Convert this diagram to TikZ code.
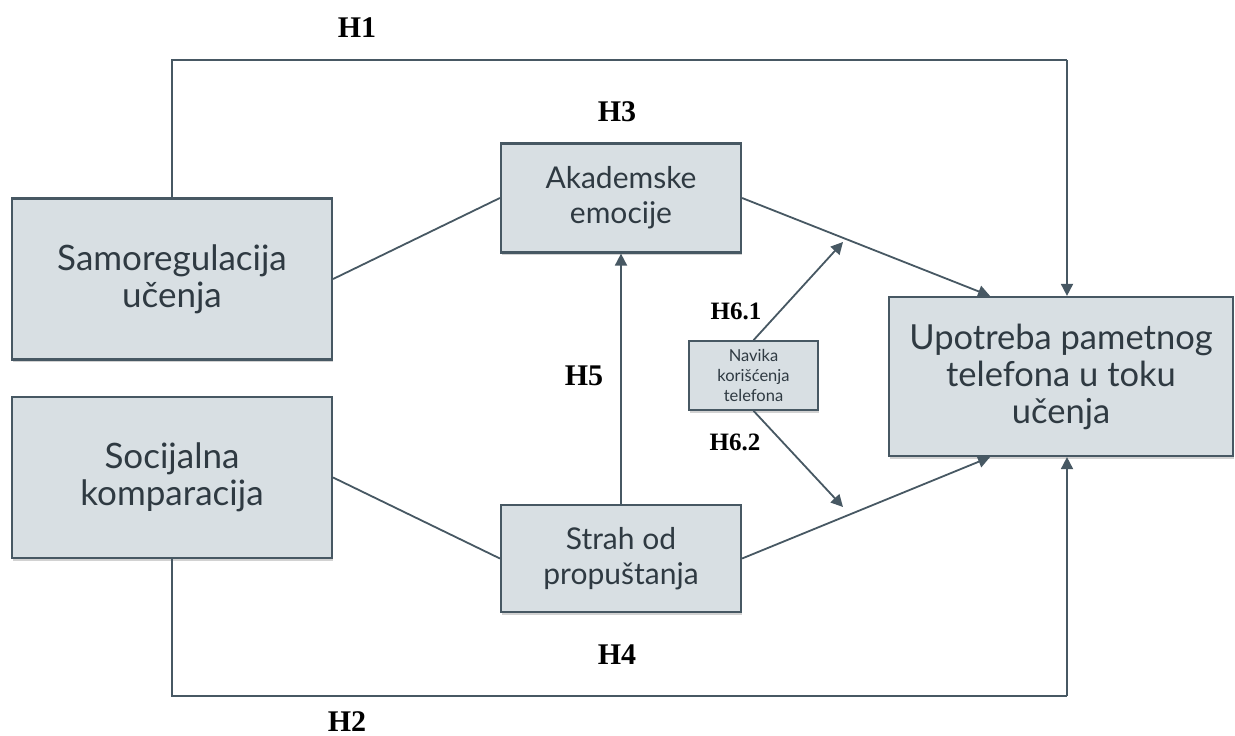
\documentclass[tikz,border=0pt]{standalone}
\usepackage{fontspec}
\setmainfont{Lato}
\newfontfamily\hfont{Liberation Serif}
\usetikzlibrary{arrows.meta,shadows,calc}
\definecolor{boxfill}{HTML}{D8DFE3}
\definecolor{edgecol}{HTML}{475863}
\definecolor{txtcol}{HTML}{2F3A42}
\begin{document}
\begin{tikzpicture}[x=1pt,y=-1pt,
  box/.style={draw=edgecol,line width=2.2pt,fill=boxfill,text=txtcol,
    align=center,inner sep=0pt,
    drop shadow={opacity=0.35,shadow xshift=1pt,shadow yshift=-2.5pt}},
  link/.style={draw=edgecol,line width=1.8pt},
  arr/.style={link,-{Triangle[length=12pt,width=12pt]}},
  hlab/.style={font=\hfont\bfseries\fontsize{30}{32}\selectfont,text=black,inner sep=0pt},
  hsub/.style={font=\hfont\bfseries\fontsize{25}{27}\selectfont,text=black,inner sep=0pt}]
\useasboundingbox[fill=white] (0,0) rectangle (1235,736);

% boxes
\node[box,minimum width=320pt,minimum height=161pt,
  font=\fontsize{35}{37}\selectfont] (sam) at (172,279) {Samoregulacija\\u\v{c}enja};
\node[box,minimum width=320pt,minimum height=161pt,
  font=\fontsize{35}{37}\selectfont] (soc) at (172,477.5) {Socijalna\\komparacija};
\node[box,minimum width=240pt,minimum height=109pt,
  font=\fontsize{30}{35}\selectfont] (aka) at (621,198) {Akademske\\emocije};
\node[box,minimum width=240pt,minimum height=107pt,
  font=\fontsize{30}{35}\selectfont] (str) at (621,558.5) {Strah od\\propu\v{s}tanja};
\node[box,minimum width=344pt,minimum height=159pt,
  font=\fontsize{34.5}{37}\selectfont] (upo) at (1061,376.5) {Upotreba pametnog\\telefona u toku\\u\v{c}enja};
\node[box,minimum width=129pt,minimum height=69pt,line width=1.6pt,
  font=\fontsize{16.5}{20}\selectfont] (nav) at (753.5,375.5) {Navika\\kori\v{s}\'{c}enja\\telefona};

% free ends of the moderation arrows
\coordinate (m1) at (843,242);
\coordinate (m2) at (843,507);
\coordinate (h1a) at (172,60);
\coordinate (h1b) at (1067,60);
\coordinate (h2a) at (172,696);
\coordinate (h2b) at (1067,696);
\coordinate (upTop) at ($(upo.north)+(-71,0)$);
\coordinate (upBot) at ($(upo.south)+(-71,0)$);
\coordinate (upTopR) at ($(upo.north)+(6,0)$);
\coordinate (upBotR) at ($(upo.south)+(6,0)$);

% connectors
\draw[link] (sam.north) -- (h1a) -- (h1b);
\draw[arr] (h1b) -- (upTopR);
\draw[link] (soc.south) -- (h2a) -- (h2b);
\draw[arr] (h2b) -- (upBotR);
\draw[link] (sam.east) -- (aka.west);
\draw[link] (soc.east) -- (str.west);
\draw[arr] (aka.east) -- (upTop);
\draw[arr] (str.east) -- (upBot);
\draw[arr] (str.north) -- (aka.south);
\draw[arr] (nav.north) -- (m1);
\draw[arr] (nav.south) -- (m2);

% hypothesis labels
\node[hlab] (lh1) at (357,28) {H1};
\node[hlab] (lh2) at (347,722) {H2};
\node[hlab] (lh3) at (617,112) {H3};
\node[hlab] (lh4) at (617,655) {H4};
\node[hlab] (lh5) at (584,376) {H5};
\node[hsub] (lh61) at (736,311) {H6.1};
\node[hsub] (lh62) at (735,442) {H6.2};
\end{tikzpicture}
\end{document}
